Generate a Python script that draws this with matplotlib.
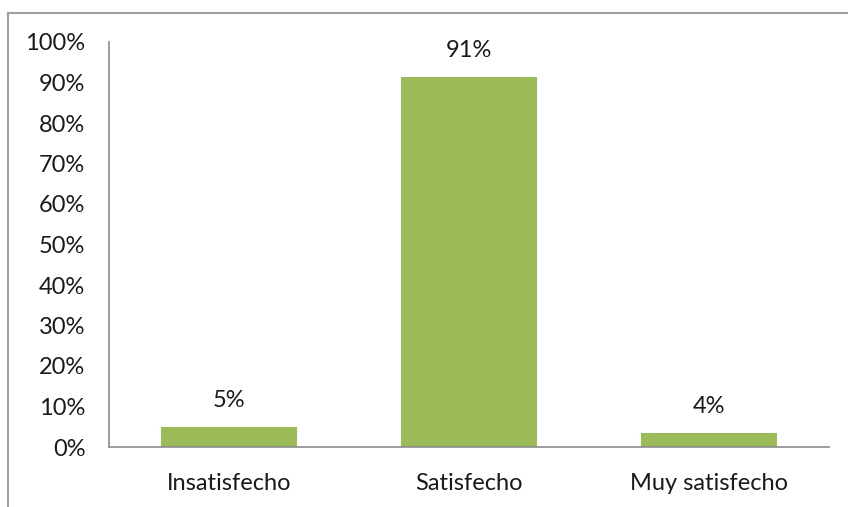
import matplotlib
matplotlib.use("Agg")
import matplotlib.pyplot as plt
from matplotlib.lines import Line2D

categories = ["Insatisfecho", "Satisfecho", "Muy satisfecho"]
values = [0.049, 0.914, 0.035]
labels = ["5%", "91%", "4%"]
yticks = [0.0, 0.1, 0.2, 0.3, 0.4, 0.5, 0.6, 0.7, 0.8, 0.9, 1.0]

plt.rcParams['font.family'] = ['Lato', 'DejaVu Sans']

W, H = 848, 507
FS = 17
fig = plt.figure(figsize=(W / 100, H / 100), dpi=100)
ax = fig.add_axes([109 / W, 1 - 447 / H, (829 - 109) / W, (447 - 42) / H])

x = list(range(len(categories)))
ax.bar(x, values, width=0.57, color="#9BBB59", zorder=2)
ax.set_xlim(-0.5, len(categories) - 0.5)
ax.set_ylim(0, 1.0)
ax.set_yticks(yticks)
ax.set_yticklabels([f"{int(round(t * 100))}%" for t in yticks])
ax.set_xticks(x)
ax.set_xticklabels(categories)

for xi, v, lab in zip(x, values, labels):
    ax.annotate(lab, (xi, v), xytext=(0, 19), textcoords="offset points",
                ha="center", va="center", fontsize=FS, color="#1a1a1a")

for s in ["top", "right"]:
    ax.spines[s].set_visible(False)
for s in ["left", "bottom"]:
    ax.spines[s].set_color("#8c8c8c")
    ax.spines[s].set_linewidth(1.2)
ax.tick_params(axis="y", length=0, pad=17, labelsize=FS, labelcolor="#1a1a1a")
ax.tick_params(axis="x", length=0, pad=19, labelsize=FS, labelcolor="#1a1a1a")

# outer chart frame (left and top edges visible)
fig.add_artist(Line2D([7.5 / W, 7.5 / W], [0, 1 - 12.5 / H], transform=fig.transFigure,
                      color="#a0a0a0", linewidth=1.5))
fig.add_artist(Line2D([7.5 / W, 1], [1 - 12.5 / H, 1 - 12.5 / H], transform=fig.transFigure,
                      color="#a0a0a0", linewidth=1.5))

fig.savefig("out.png", dpi=100)
